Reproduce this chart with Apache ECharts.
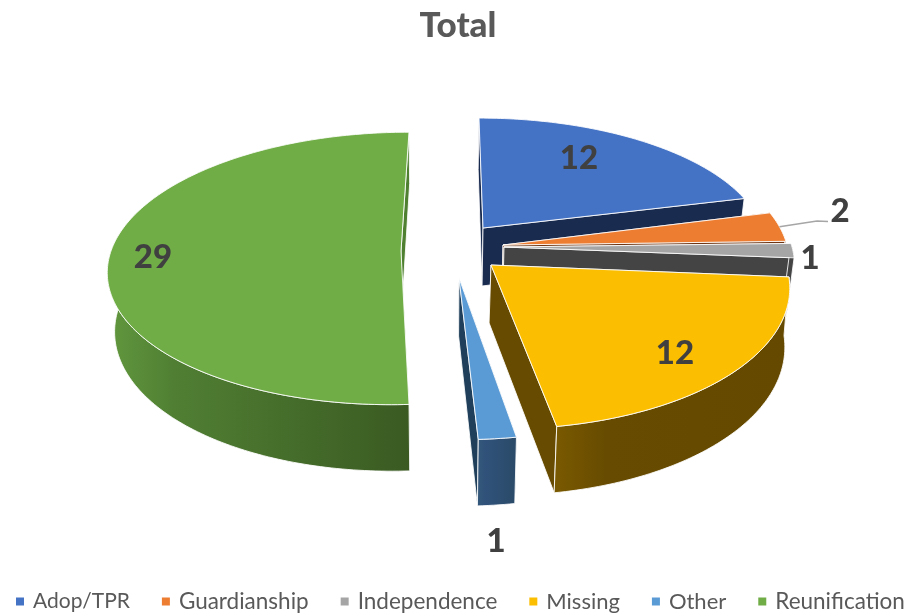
<!DOCTYPE html>
<html>
<head>
<meta charset="utf-8">
<style>html,body{margin:0;padding:0;background:#fff}#c{width:909px;height:614px}</style>
<script src="https://cdn.jsdelivr.net/npm/echarts@6/dist/echarts.min.js"></script>
</head>
<body>
<div id="c"></div>
<script>
const titleText = 'Total';
const categories = ['Adop/TPR', 'Guardianship', 'Independence', 'Missing', 'Other', 'Reunification'];
const values = [12, 2, 1, 12, 1, 29];

const topColors = ['#4472C4', '#ED7D31', '#A5A5A5', '#FBBE00', '#5B9BD5', '#70AD47'];
const faceColors = ['#1A2B50', '#6F3512', '#444444', '#674B00', '#1F3F5A', '#4F7F30'];
const rimColors = [
  ['#1A2B50', '#1A2B50', '#1A2B50'], ['#7A3D14', '#6F3512', '#6F3512'], ['#444444', '#444444', '#444444'],
  ['#7A5A00', '#674B00', '#654900'], ['#34587A', '#30527A', '#2B4A68'], ['#62983E', '#507F33', '#3A5A22']
];
// Exploded slice geometry, one per category: apex ax/ay, radii rx/ry, skew k
const apexX = [483, 503, 504, 491, 459, 401];
const apexY = [228, 245, 247, 265, 278, 251];
const radX = [279, 284, 288, 295, 305, 290];
const radY = [124, 135, 130, 143, 141, 134];
const skew = [4.5, 0, 0, 9, 0, -9];
const shrink = [0.978, 0.978, 0.978, 0.99, 0.978, 0.978];
const vanishX = [440, 440, 440, 300, 440, 440];
const labelX = [579, 840, 810, 675, 496, 153];
const labelY = [158, 211, 258, 353, 541, 257];
const legendFontSizes = [21, 22.5, 22.5, 22, 22, 22.5];

const PERSPECTIVE = 0.128, DEPTH = 58;
const total = values.reduce((a, b) => a + b, 0);
const stroke = 'rgba(255,255,255,0.85)';

function project(i, thetaDeg, r) {
  const t = thetaDeg * Math.PI / 180;
  const u = r * Math.sin(t), v = -r * Math.cos(t);
  const w = 1 / (1 - PERSPECTIVE * v);
  const x = apexX[i] + (radX[i] * u + skew[i] * v) * w;
  const y = apexY[i] + radY[i] * v * w;
  return { x, y, w, v };
}
function lower(i, p) {
  return [vanishX[i] + (p.x - vanishX[i]) * shrink[i], p.y + DEPTH * p.w];
}
function poly(points, fill, z2) {
  return { type: 'polygon', z2, shape: { points }, style: { fill, stroke, lineWidth: 1, lineJoin: 'round' }, silent: true };
}
function cutFace(i, deg, fill, z2) {
  const a = project(i, 0, 0), b = project(i, deg, 1);
  return poly([[a.x, a.y], [b.x, b.y], lower(i, b), lower(i, a)], fill, z2);
}

function renderSlice(i) {
  return function (params, api) {
    const value = api.value(0);
    let before = 0;
    for (let k = 0; k < i; k++) before += values[k];
    const start = before / total * 360, end = (before + value) / total * 360;
    const children = [];

    // hidden cut face first, then the one turned toward the viewer
    children.push(cutFace(i, start, faceColors[i], 1));
    children.push(cutFace(i, end, faceColors[i], 2));

    // outer rim
    const steps = Math.max(4, Math.ceil(end - start));
    const up = [], down = [];
    for (let s = 0; s <= steps; s++) {
      const p = project(i, start + (end - start) * s / steps, 1);
      if (p.v >= -0.06) { up.push([p.x, p.y]); down.push(lower(i, p)); }
    }
    if (up.length > 1) {
      children.push(poly(up.concat(down.reverse()),
        new echarts.graphic.LinearGradient(0, 0, 1, 0, [
          { offset: 0, color: rimColors[i][0] },
          { offset: 0.22, color: rimColors[i][1] },
          { offset: 1, color: rimColors[i][2] }
        ]), 3));
    }

    // top surface
    const a = project(i, 0, 0);
    const top = [[a.x, a.y]];
    for (let s = 0; s <= steps; s++) {
      const p = project(i, start + (end - start) * s / steps, 1);
      top.push([p.x, p.y]);
    }
    children.push(poly(top, topColors[i], 4));

    // value label, with a leader line for the Guardianship slice
    if (value === 2) {
      const m = project(i, (start + end) / 2, 1);
      children.push({
        type: 'polyline', z2: 5, silent: true,
        shape: { points: [[m.x, m.y], [labelX[i] - 23, labelY[i] + 10], [labelX[i] - 12, labelY[i] + 10.5]] },
        style: { stroke: '#A6A6A6', lineWidth: 1.5, fill: null }
      });
    }
    children.push({
      type: 'text', z2: 6, silent: true,
      style: {
        text: String(value), x: labelX[i], y: labelY[i], fill: '#404040',
        font: '900 33px Lato', textAlign: 'center', textVerticalAlign: 'middle'
      }
    });
    return { type: 'group', children };
  };
}

const chart = echarts.init(document.getElementById('c'));
chart.setOption({
  animation: false,
  backgroundColor: '#ffffff',
  title: {
    text: titleText, left: 453, top: 3, textAlign: 'center',
    textStyle: { color: '#595959', fontFamily: 'Lato', fontWeight: 900, fontSize: 35 }
  },
  legend: {
    data: categories.map((name, i) => ({
      name,
      textStyle: { color: '#595959', fontFamily: 'Lato', fontSize: legendFontSizes[i], padding: [0, 0, 0, 4] }
    })),
    left: 16, top: 590, width: 1000, padding: 0, icon: 'rect', itemWidth: 8, itemHeight: 8, itemGap: 32,
    selectedMode: false,
    textStyle: { color: '#595959', fontFamily: 'Lato', fontSize: 22.5, padding: [0, 0, 0, 4] }
  },
  series: categories.map((name, i) => ({
    type: 'custom',
    name,
    coordinateSystem: 'none',
    z: i + 2,
    silent: true,
    itemStyle: { color: topColors[i] },
    data: [[values[i]]],
    renderItem: renderSlice(i)
  }))
});
</script>
</body>
</html>
